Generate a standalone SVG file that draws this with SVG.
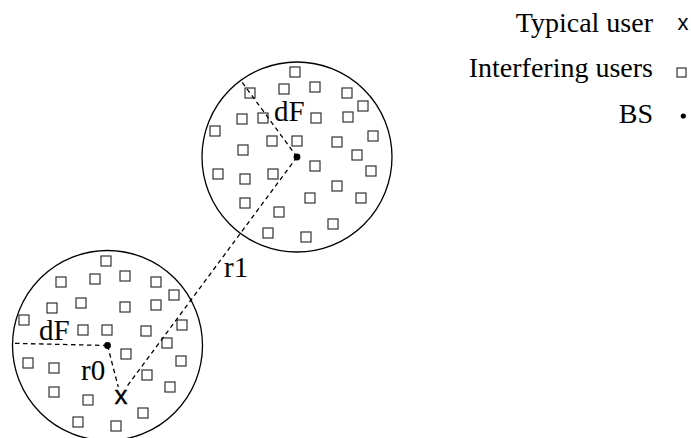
<svg xmlns="http://www.w3.org/2000/svg" width="691" height="438" viewBox="0 0 691 438">
<style>
.cell{fill:none;stroke:#000;stroke-width:1.3}
.u{fill:#fff;stroke:#333;stroke-width:1.2}
.bs{fill:#000}
.dash{fill:none;stroke:#000;stroke-width:1.3;stroke-dasharray:4.5 3.5}
.lbl{font-family:"Liberation Serif","Times New Roman",serif;font-size:29px;fill:#000}
.leg{font-family:"Liberation Serif","Times New Roman",serif;font-size:28px;fill:#000;text-anchor:end}
.tu{font-family:"Liberation Sans",Arial,sans-serif;fill:#000;text-anchor:middle}
</style>
<defs>
<rect id="sq" x="-5" y="-5" width="10" height="10" class="u"/>
</defs>
<rect width="691" height="438" fill="#fff"/>
<g id="cell1">
<circle cx="297" cy="157" r="95" class="cell"/>
<g id="users1">
<use href="#sq" x="295" y="72"/><use href="#sq" x="284" y="89"/><use href="#sq" x="315" y="87"/><use href="#sq" x="347" y="93"/><use href="#sq" x="250" y="93"/><use href="#sq" x="363" y="106"/><use href="#sq" x="242" y="119"/><use href="#sq" x="263" y="118"/><use href="#sq" x="316" y="118"/><use href="#sq" x="348" y="117"/><use href="#sq" x="215" y="131"/><use href="#sq" x="272" y="141"/><use href="#sq" x="297" y="141"/><use href="#sq" x="337" y="142"/><use href="#sq" x="373" y="136"/><use href="#sq" x="243" y="150"/><use href="#sq" x="357" y="155"/><use href="#sq" x="315" y="166"/><use href="#sq" x="218" y="174"/><use href="#sq" x="245" y="179"/><use href="#sq" x="273" y="174"/><use href="#sq" x="371" y="171"/><use href="#sq" x="337" y="186"/><use href="#sq" x="310" y="198"/><use href="#sq" x="361" y="198"/><use href="#sq" x="245" y="203"/><use href="#sq" x="279" y="212"/><use href="#sq" x="333" y="224"/><use href="#sq" x="268" y="233"/><use href="#sq" x="306" y="237"/>
</g>
<text class="lbl" x="274" y="121">dF</text>
</g>
<g id="cell0">
<circle cx="107.5" cy="345.5" r="95" class="cell"/>
<g id="users0">
<use href="#sq" x="106" y="261"/><use href="#sq" x="61" y="282"/><use href="#sq" x="95" y="279"/><use href="#sq" x="125" y="276"/><use href="#sq" x="156" y="282"/><use href="#sq" x="174" y="295"/><use href="#sq" x="52" y="308"/><use href="#sq" x="81" y="303"/><use href="#sq" x="125" y="307"/><use href="#sq" x="156" y="305"/><use href="#sq" x="24" y="320"/><use href="#sq" x="83" y="330"/><use href="#sq" x="107" y="330"/><use href="#sq" x="146" y="331"/><use href="#sq" x="182" y="325"/><use href="#sq" x="167" y="343"/><use href="#sq" x="126" y="354"/><use href="#sq" x="28" y="363"/><use href="#sq" x="54" y="368"/><use href="#sq" x="181" y="361"/><use href="#sq" x="147" y="375"/><use href="#sq" x="54" y="392"/><use href="#sq" x="88" y="400"/><use href="#sq" x="170" y="387"/><use href="#sq" x="143" y="413"/><use href="#sq" x="78" y="422"/><use href="#sq" x="116" y="426"/>
</g>
<text class="lbl" x="39" y="340">dF</text>
<text class="lbl" x="81" y="380">r0</text>
</g>
<g id="connectors">
<line class="dash" x1="297" y1="157" x2="241.7" y2="81.7"/>
<line class="dash" x1="297" y1="157" x2="126.5" y2="387"/>
<line class="dash" x1="107.5" y1="345.5" x2="12.5" y2="343.3"/>
<line class="dash" x1="107.5" y1="345.5" x2="118.3" y2="387"/>
</g>
<text class="lbl" x="224" y="277">r1</text>
<g id="bs1"><circle cx="297" cy="157" r="3.4" class="bs"/></g>
<g id="bs0"><circle cx="107.5" cy="345.5" r="3.4" class="bs"/></g>
<g id="typical-user"><text class="tu" x="121" y="403.5" font-size="26" stroke="#000" stroke-width="0.4">x</text></g>
<g id="legend">
<text class="leg" x="653" y="32">Typical user</text>
<text class="tu" x="683" y="30" font-size="22">x</text>
<text class="leg" x="653" y="77">Interfering users</text>
<rect x="677" y="68" width="9" height="9" class="u"/>
<text class="leg" x="653" y="123">BS</text>
<circle cx="683.3" cy="116" r="2.6" class="bs"/>
</g>
</svg>
